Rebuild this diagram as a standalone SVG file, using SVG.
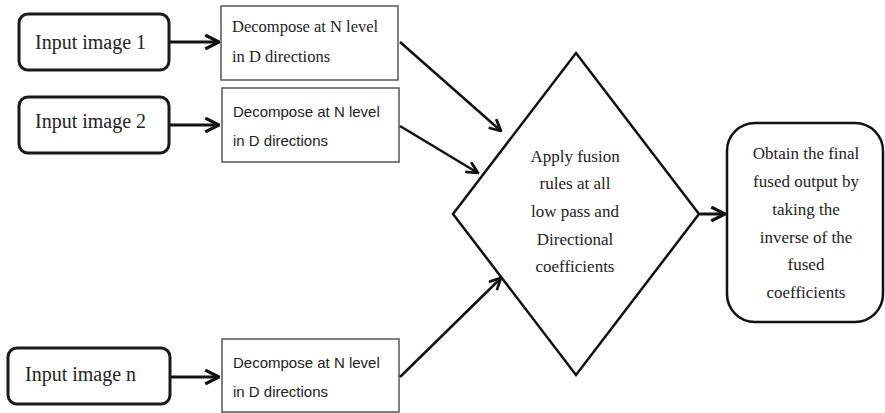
<svg xmlns="http://www.w3.org/2000/svg" width="885" height="413" viewBox="0 0 885 413">
  <style>
    .input { fill: #fff; stroke: #1a1a1a; stroke-width: 3; }
    .step { fill: #fff; stroke: #555; stroke-width: 1.5; }
    .shape { fill: #fff; stroke: #111; stroke-width: 2.5; }
    .serif { font-family: "Liberation Serif", "Times New Roman", serif; fill: #222; }
    .sans { font-family: "Liberation Sans", Arial, sans-serif; fill: #222; }
    .conn { fill: none; stroke: #111; stroke-width: 3; marker-end: url(#arrow); }
    .conn-thin { fill: none; stroke: #111; stroke-width: 2.5; marker-end: url(#arrow); }
  </style>
  <defs>
    <marker id="arrow" viewBox="0 0 12 12" refX="11" refY="6" markerWidth="5.5" markerHeight="5.5" markerUnits="strokeWidth" orient="auto">
      <path d="M1,1 L11,6 L1,11" fill="none" stroke="#111" stroke-width="2.4" stroke-linejoin="miter"/>
    </marker>
  </defs>
  <rect width="885" height="413" fill="#fff"/>

  <g id="input1">
    <rect class="input" x="19" y="14" width="150" height="56" rx="9"/>
    <text class="serif" x="35" y="49" font-size="20">Input image 1</text>
  </g>
  <g id="input2">
    <rect class="input" x="19" y="97" width="150" height="56" rx="9"/>
    <text class="serif" x="35" y="128" font-size="20">Input image 2</text>
  </g>
  <g id="inputN">
    <rect class="input" x="8" y="348" width="162" height="56" rx="9"/>
    <text class="serif" x="25" y="381" font-size="20">Input image n</text>
  </g>

  <g id="decompose1">
    <rect class="step" x="221" y="6" width="177" height="74"/>
    <text class="serif" x="232" y="32" font-size="16.5">Decompose at N level</text>
    <text class="serif" x="232" y="62" font-size="16.5">in D directions</text>
  </g>
  <g id="decompose2">
    <rect class="step" x="222" y="88" width="177" height="74"/>
    <text class="sans" x="233" y="117" font-size="15">Decompose at N level</text>
    <text class="sans" x="233" y="146" font-size="15">in D directions</text>
  </g>
  <g id="decomposeN">
    <rect class="step" x="222" y="339" width="177" height="73"/>
    <text class="sans" x="233" y="368" font-size="15">Decompose at N level</text>
    <text class="sans" x="233" y="397" font-size="15">in D directions</text>
  </g>

  <g id="fusion">
    <polygon class="shape" points="576,53 699,214 576,375 453,214"/>
    <g class="serif" font-size="17" text-anchor="middle">
      <text x="575" y="162">Apply fusion</text>
      <text x="575" y="189">rules at all</text>
      <text x="575" y="217">low pass and</text>
      <text x="575" y="245">Directional</text>
      <text x="575" y="272">coefficients</text>
    </g>
  </g>

  <g id="output">
    <rect class="shape" x="727" y="123" width="156" height="199" rx="28"/>
    <g class="serif" font-size="17" text-anchor="middle">
      <text x="806" y="159">Obtain the final</text>
      <text x="806" y="187">fused output by</text>
      <text x="806" y="215">taking the</text>
      <text x="806" y="243">inverse of the</text>
      <text x="806" y="270">fused</text>
      <text x="806" y="298">coefficients</text>
    </g>
  </g>

  <g id="connectors">
    <line class="conn" x1="170" y1="42" x2="219" y2="42"/>
    <line class="conn" x1="170" y1="125" x2="219" y2="125"/>
    <line class="conn" x1="171" y1="377" x2="219" y2="377"/>
    <line class="conn-thin" x1="400" y1="42" x2="501" y2="131"/>
    <line class="conn-thin" x1="400" y1="126" x2="478" y2="173"/>
    <line class="conn-thin" x1="400" y1="377" x2="501" y2="278"/>
    <line class="conn" x1="700" y1="214" x2="725" y2="214"/>
  </g>
</svg>
